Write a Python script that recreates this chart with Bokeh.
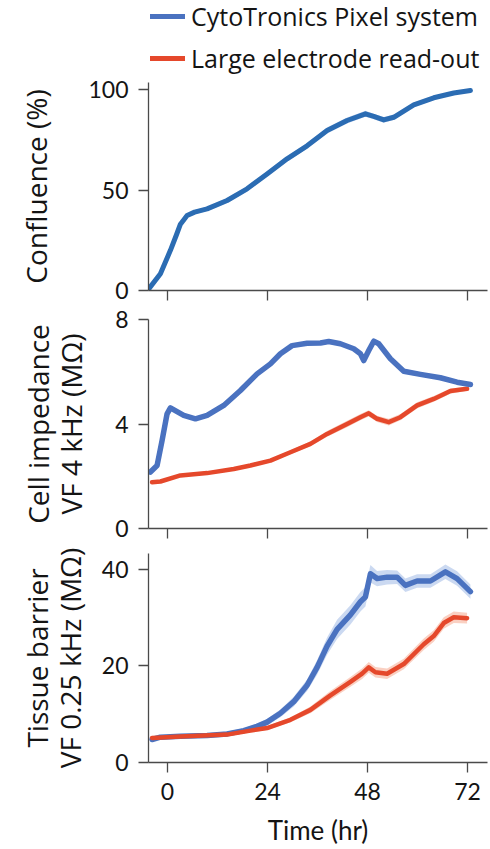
from bokeh.plotting import figure
from bokeh.models import FixedTicker, Legend, LegendItem
from bokeh.layouts import column
from bokeh.embed import file_html
from bokeh.resources import INLINE

# ---------------- data ----------------
time_ticks = [0, 24, 48, 72]

# Panel 1: confluence (%)
t_conf = [-4.5, -1.7, 0.7, 2.2, 3.1, 4.7, 6.5, 9.5, 14.3, 19.1, 23.9, 28.7, 33.5, 38.3,
          43.1, 47.5, 49.5, 51.9, 54.3, 59.1, 63.9, 68.7, 72.7]
conf = [0.8, 8.3, 20.0, 28.0, 33.0, 37.3, 39.0, 40.6, 44.8, 50.6, 58.0, 65.5, 72.0, 79.6,
        84.6, 87.9, 86.6, 84.9, 86.2, 92.4, 95.9, 98.3, 99.5]
conf_err = [0.8, 1.0, 1.0, 1.0, 1.0, 1.0, 1.0, 1.0, 1.2, 1.2, 1.3, 1.4, 1.4, 1.5,
            1.5, 1.5, 1.4, 1.4, 1.4, 1.2, 1.0, 0.8, 0.6]

# Panel 2: cell impedance VF 4 kHz (MOhm)
t_imp_pix = [-4.1, -2.5, -1.3, -0.1, 0.7, 3.9, 6.7, 9.5, 13.5, 17.5, 21.5, 24.7,
             27.1, 29.9, 33.5, 36.7, 38.7, 41.5, 44.7, 46.3, 47.1, 48.3, 49.5,
             50.7, 53.5, 56.7, 60.7, 65.5, 69.5, 72.7]
imp_pix = [2.16, 2.41, 3.37, 4.39, 4.62, 4.33, 4.20, 4.33, 4.71, 5.28, 5.92, 6.30,
           6.69, 7.00, 7.09, 7.10, 7.16, 7.07, 6.88, 6.69, 6.43, 6.81, 7.17,
           7.07, 6.50, 6.02, 5.90, 5.77, 5.60, 5.51]
imp_pix_err = [0.06, 0.06, 0.06, 0.06, 0.06, 0.06, 0.06, 0.06, 0.06, 0.07, 0.07, 0.07,
               0.07, 0.07, 0.07, 0.07, 0.07, 0.08, 0.08, 0.10, 0.10, 0.10, 0.10,
               0.10, 0.09, 0.09, 0.08, 0.08, 0.08, 0.08]
t_imp_lrg = [-3.7, -1.7, 3.1, 9.5, 15.9, 19.9, 24.7, 29.5, 34.3, 38.3, 43.1,
             46.3, 48.3, 50.3, 53.1, 55.9, 59.9, 63.9, 67.9, 71.9]
imp_lrg = [1.77, 1.80, 2.03, 2.12, 2.28, 2.41, 2.60, 2.92, 3.24, 3.62, 4.00,
           4.26, 4.41, 4.20, 4.07, 4.26, 4.71, 4.96, 5.26, 5.35]
imp_lrg_err = [0.04, 0.04, 0.04, 0.05, 0.05, 0.06, 0.06, 0.08, 0.09, 0.11, 0.12,
               0.12, 0.12, 0.12, 0.13, 0.12, 0.12, 0.11, 0.10, 0.08]

# Panel 3: tissue barrier VF 0.25 kHz (MOhm)
t_bar_pix = [-3.7, -1.7, 3.1, 9.5, 14.3, 18.3, 21.5, 23.9, 27.1, 30.3, 33.5, 35.9,
             38.3, 40.7, 43.9, 46.3, 47.5, 48.7, 50.3, 52.7, 55.1, 57.1, 59.9,
             63.1, 66.7, 69.5, 72.7]
bar_pix = [4.76, 5.24, 5.44, 5.58, 5.92, 6.60, 7.48, 8.37, 10.2, 12.6, 16.0, 19.7,
           24.1, 27.6, 30.6, 33.3, 34.3, 39.1, 38.1, 38.4, 38.4, 36.7, 37.6,
           37.6, 39.5, 38.1, 35.4]
bar_pix_err = [0.4, 0.4, 0.4, 0.4, 0.5, 0.5, 0.6, 0.7, 0.8, 1.0, 1.2, 1.5,
               1.8, 2.0, 2.0, 2.0, 2.0, 1.8, 1.6, 1.5, 1.4, 1.4, 1.4,
               1.4, 1.5, 1.5, 1.5]
t_bar_lrg = [-3.7, 3.1, 14.3, 19.9, 23.9, 29.5, 34.3, 39.1, 43.9, 46.7, 48.3,
             49.9, 52.7, 56.7, 61.5, 63.9, 66.3, 68.7, 71.9]
bar_lrg = [5.10, 5.37, 5.78, 6.60, 7.14, 8.84, 10.9, 13.9, 16.7, 18.4, 19.7,
           18.7, 18.4, 20.4, 24.5, 26.2, 28.9, 30.1, 29.9]
bar_lrg_err = [0.3, 0.3, 0.3, 0.4, 0.4, 0.5, 0.7, 0.9, 1.0, 1.1, 1.1,
               1.1, 1.1, 1.1, 1.2, 1.2, 1.2, 1.2, 1.1]

series_names = ["CytoTronics Pixel system", "Large electrode read-out"]

# ---------------- style ----------------
FONT = "Open Sans"
TICKFONT = "Lato"
BLUE1 = "#2b6cb3"
BLUE = "#4a72c0"
BLUE_BAND = "#a9bfe8"
RED = "#e5482b"
RED_BAND = "#f6b09a"
TXT = "#141414"
AX = "#4a4a4a"
XMIN, XMAX = -4.56, 76.8
W = 490


def make_fig(height, top, bottom, yr, yticks, ylabel, lab_standoff, show_x):
    p = figure(width=W, height=height, x_range=(XMIN, XMAX), y_range=yr,
               output_backend="svg", toolbar_location=None,
               min_border_left=148, min_border_right=3,
               min_border_top=top, min_border_bottom=bottom)
    p.grid.visible = False
    p.outline_line_color = None
    p.background_fill_color = "white"
    p.border_fill_color = "white"
    for ax in (p.xaxis[0], p.yaxis[0]):
        ax.axis_line_color = AX
        ax.axis_line_width = 1.3
        ax.major_tick_line_color = AX
        ax.major_tick_line_width = 1.3
        ax.major_tick_in = 0
        ax.major_tick_out = 10
        ax.minor_tick_line_color = None
        ax.major_label_text_font = TICKFONT
        ax.major_label_text_font_size = "23px"
        ax.major_label_text_color = TXT
        ax.major_label_standoff = 10
        ax.axis_label_text_font = FONT
        ax.axis_label_text_font_size = "28px"
        ax.axis_label_text_font_style = "normal"
        ax.axis_label_text_color = TXT
        ax.axis_label_text_line_height = 0.87
    p.xaxis.ticker = FixedTicker(ticks=time_ticks)
    p.yaxis.ticker = FixedTicker(ticks=yticks)
    p.yaxis.axis_label = ylabel
    p.yaxis.axis_label_standoff = lab_standoff
    if show_x:
        p.xaxis.axis_label = "Time (hr)"
        p.xaxis.axis_label_text_font = TICKFONT
        p.xaxis.axis_label_text_font_size = "26px"
        p.xaxis.axis_label_text_line_height = 1.0
        p.xaxis.major_label_standoff = 10
        p.xaxis.axis_label_standoff = 11
    else:
        p.xaxis.major_label_text_color = None
        p.xaxis.major_label_standoff = 0
    return p


def band(p, t, y, e, color, **kw):
    lo = [a - b for a, b in zip(y, e)]
    hi = [a + b for a, b in zip(y, e)]
    p.varea(x=t, y1=lo, y2=hi, fill_color=color, fill_alpha=0.6, **kw)


def trace(p, t, y, color, w=5, **kw):
    return p.line(t, y, line_color=color, line_width=w,
                  line_cap="round", line_join="round", **kw)


# Legend strip (its own small figure; swatch lines drawn on an off-screen range)
p0 = figure(width=W, height=75, x_range=(XMIN, XMAX), y_range=(1000, 1001),
            output_backend="svg", toolbar_location=None,
            x_axis_location=None, y_axis_location=None,
            min_border_left=148, min_border_right=3, min_border_top=0, min_border_bottom=0)
p0.grid.visible = False
p0.outline_line_color = None
lg_b = trace(p0, t_imp_pix, imp_pix, BLUE, 5)
lg_r = trace(p0, t_imp_lrg, imp_lrg, RED, 5)
legend = Legend(items=[LegendItem(label=series_names[0], renderers=[lg_b]),
                       LegendItem(label=series_names[1], renderers=[lg_r])],
                location=(2, 0), orientation="vertical",
                label_text_font=FONT, label_text_font_size="25px",
                label_text_color=TXT,
                glyph_width=35, glyph_height=26, label_height=26,
                label_standoff=6, spacing=8, padding=0, margin=0,
                border_line_color=None, background_fill_alpha=0)
p0.add_layout(legend)

# Panel 1
p1 = make_fig(229, 7, 14, (0, 103.5), [0, 50, 100], "Confluence (%)", 30, False)
band(p1, t_conf, conf, conf_err, BLUE_BAND)
trace(p1, t_conf, conf, BLUE1)

# Panel 2
p2 = make_fig(238, 15, 14, (0, 8), [0, 4, 8], "Cell impedance\nVF 4 kHz (M\u03a9)", 22, False)
band(p2, t_imp_lrg, imp_lrg, imp_lrg_err, RED_BAND)
band(p2, t_imp_pix, imp_pix, imp_pix_err, BLUE_BAND)
trace(p2, t_imp_lrg, imp_lrg, RED, 4.5)
trace(p2, t_imp_pix, imp_pix, BLUE, 5.5)

# Panel 3
p3 = make_fig(307, 11, 87, (0, 43.3), [0, 20, 40], "Tissue barrier\nVF 0.25 kHz (M\u03a9)", 10, True)
band(p3, t_bar_pix, bar_pix, bar_pix_err, BLUE_BAND)
band(p3, t_bar_lrg, bar_lrg, bar_lrg_err, RED_BAND)
trace(p3, t_bar_pix, bar_pix, BLUE, 5.5)
trace(p3, t_bar_lrg, bar_lrg, RED, 4.5)

layout = column(p0, p1, p2, p3, spacing=0)
open("out.html", "w").write(file_html(layout, INLINE))
